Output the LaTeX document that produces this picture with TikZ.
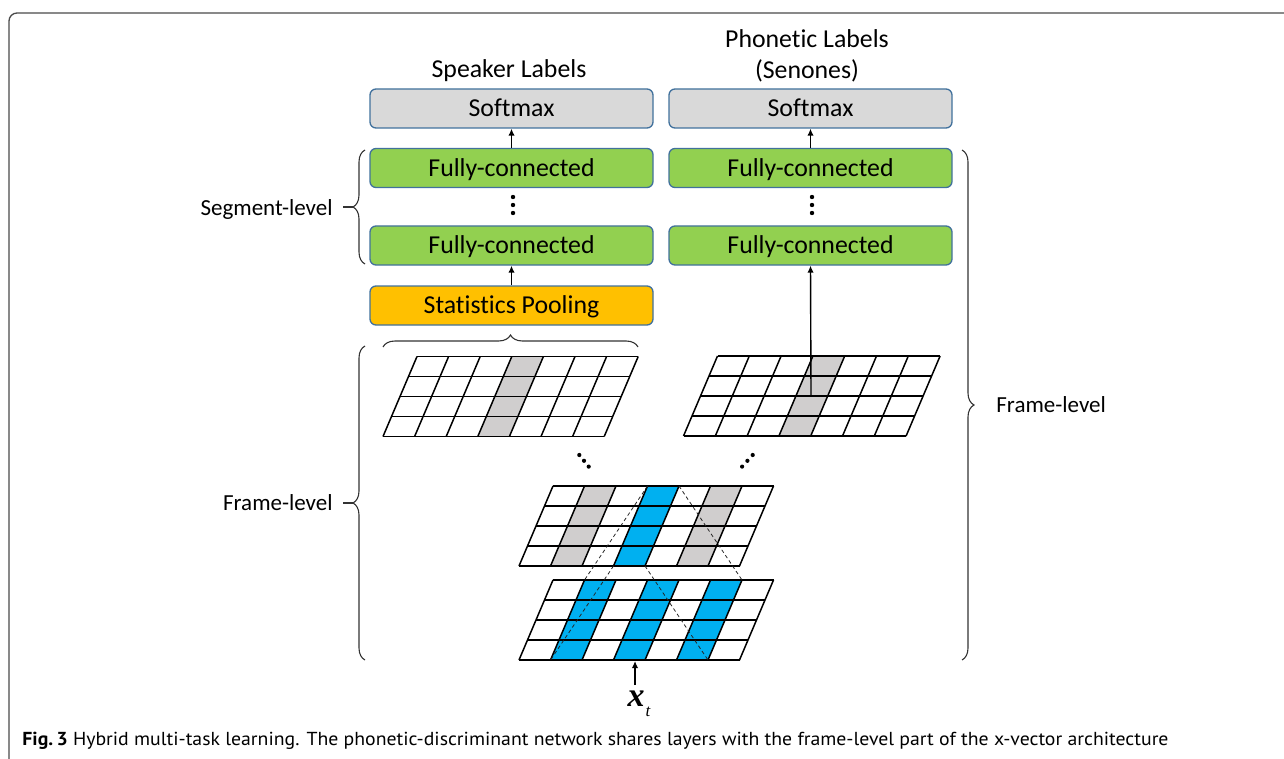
\documentclass[tikz,border=0pt]{standalone}
\usepackage{fontspec}
\setmainfont{Carlito}[Ligatures=NoCommon]
\newfontfamily\capfont{PT Sans}
\newfontfamily\symfont{Liberation Serif}
\usetikzlibrary{arrows.meta,decorations.pathreplacing}

\definecolor{fcgreen}{HTML}{92D050}
\definecolor{poolorange}{HTML}{FFC000}
\definecolor{smgrey}{HTML}{D9D9D9}
\definecolor{boxedge}{HTML}{41719C}
\definecolor{cellgrey}{HTML}{D0CECE}
\definecolor{cellblue}{HTML}{00B0F0}
\definecolor{framegrey}{HTML}{4A4A4A}

% horizontal shift of a grid over its four rows
\def\gslant{34}

% #1 name, #2 x of bottom-left corner, #3 y of bottom edge,
% #4 column width, #5 shaded columns as index/colour
\newcommand{\cellgrid}[5]{%
  \foreach \k/\col in {#5} {
    \fill[\col] ({#2+\k*#4},#3) -- ({#2+(\k+1)*#4},#3)
      -- ({#2+(\k+1)*#4+\gslant},{#3-80}) -- ({#2+\k*#4+\gslant},{#3-80}) -- cycle;
  }
  \foreach \r in {0,...,4}
    \draw[gridline] ({#2+\r*\gslant/4},{#3-\r*20}) -- ++({7*#4},0);
  \foreach \k in {0,...,7} {
    \draw[gridline] ({#2+\k*#4},#3) -- ++(\gslant,-80);
    \coordinate (#1-b\k) at ({#2+\k*#4},#3);
    \coordinate (#1-t\k) at ({#2+\k*#4+\gslant},{#3-80});
  }
}

\begin{document}
\begin{tikzpicture}[x=0.5pt,y=-0.5pt,
  layerbox/.style={draw=boxedge, line width=0.65pt, rounded corners=3pt,
    minimum width=141.5pt, minimum height=19.5pt, inner sep=0pt,
    font=\fontsize{12.9}{15}\selectfont, text height=8.3pt, text depth=0pt},
  labeltext/.style={inner sep=0pt, font=\fontsize{12.9}{15.5}\selectfont,
    text height=8.3pt, text depth=0pt},
  sidetext/.style={inner sep=0pt, font=\fontsize{11.5}{14}\selectfont,
    text height=7.4pt, text depth=0pt},
  gridline/.style={line width=0.75pt, black},
  arr/.style={line width=0.7pt, -{Latex[length=3.5pt,width=3.2pt]}},
  brace/.style={decorate, decoration={brace, amplitude=6pt}, line width=0.55pt, black!80},
  field/.style={line width=0.4pt, black!85, dash pattern=on 1.8pt off 1.4pt},
  dot/.style={fill=black}]

\useasboundingbox (0,0) rectangle (1284,759);

% page frame
\begin{scope}
  \clip (0,0) rectangle (1284,759);
  \draw[framegrey, line width=0.65pt, rounded corners=4pt] (9,13) rectangle (1320,800);
\end{scope}

% output labels
\node[labeltext] (spk) at (509,69) {Speaker Labels};
\node[labeltext] (pho) at (807,39) {Phonetic Labels};
\node[labeltext] (sen) at (807,70) {(Senones)};

% speaker branch
\node[layerbox, fill=smgrey] (smA) at (511.5,108.5) {Softmax};
\node[layerbox, fill=fcgreen] (fcA1) at (511.5,168) {Fully-connected};
\node[layerbox, fill=fcgreen] (fcA2) at (511.5,245.5) {Fully-connected};
\node[layerbox, fill=poolorange] (pool) at (511.5,305.5) {Statistics Pooling};

% phonetic branch
\node[layerbox, fill=smgrey] (smB) at (810.5,108.5) {Softmax};
\node[layerbox, fill=fcgreen] (fcB1) at (810.5,168) {Fully-connected};
\node[layerbox, fill=fcgreen] (fcB2) at (810.5,245.5) {Fully-connected};

% vertical ellipses between fully-connected layers
\foreach \yy in {197,205,213} {
  \fill[dot] (513,\yy) circle (2.2);
  \fill[dot] (812,\yy) circle (2.2);
}

\draw[arr] (fcA1.north) -- (smA.south);
\draw[arr] (pool.north) -- (fcA2.south);
\draw[arr] (fcB1.north) -- (smB.south);

% frame-level layers
\cellgrid{ul}{383}{436.5}{31.6}{3/cellgrey}
\cellgrid{ur}{683.5}{436}{31.8}{3/cellgrey}
\cellgrid{mid}{519}{566}{31.5}{1/cellgrey,3/cellblue,5/cellgrey}
\cellgrid{bot}{519}{660}{31.5}{1/cellblue,3/cellblue,5/cellblue}

% phonetic branch taps the upper frame-level layer
\coordinate (urtap) at (811,395);
\draw[arr] (urtap) -- (fcB2.south);

% receptive field of the middle layer
\draw[field] (mid-t3) -- (bot-t1);
\draw[field] (mid-b3) -- (bot-b1);
\draw[field] (mid-t4) -- (bot-t6);
\draw[field] (mid-b4) -- (bot-b6);

% diagonal ellipses between layers
\foreach \px/\py in {579.3/455,584/460.8,588.7/466.6,752.7/455,747.4/460.8,742.1/466.6}
  \fill[dot] (\px,\py) circle (2.1);

% input frame
\node[inner sep=0pt, font=\symfont, anchor=base] (xt) at (639,706)
  {\fontsize{17}{17}\selectfont\bfseries\itshape x\kern0.5pt\raisebox{-0.3em}{\fontsize{8.5}{9}\selectfont\mdseries t}};
\coordinate (xin) at (635,685);
\coordinate (xend) at (635,661);
\draw[arr] (xin) -- (xend);

% braces
\draw[brace] (365,264) -- (365,150);
\coordinate (segtip) at (353,207);
\coordinate (segdash) at (343,207);
\draw[line width=0.55pt, black!80] (segtip) -- (segdash);
\node[sidetext, anchor=east] (seglab) at (333,208) {Segment-level};

\draw[brace] (365,660) -- (365,346);
\coordinate (frtip) at (353,503);
\coordinate (frdash) at (343,503);
\draw[line width=0.55pt, black!80] (frtip) -- (frdash);
\node[sidetext, anchor=east] (frlabL) at (333,503) {Frame-level};

\draw[brace] (383,347) -- (638,347);

\draw[brace] (962,150) -- (962,660);
\node[sidetext, anchor=west] (frlabR) at (996,405) {Frame-level};

% caption
\node[anchor=west, inner sep=0pt] (caption) at (22,741)
  {\resizebox{573pt}{\height}{\capfont\fontsize{9.4}{11}\selectfont{\bfseries Fig.\,3} Hybrid multi-task learning. The phonetic-discriminant network shares layers with the frame-level part of the x-vector architecture}};

\end{tikzpicture}
\end{document}
